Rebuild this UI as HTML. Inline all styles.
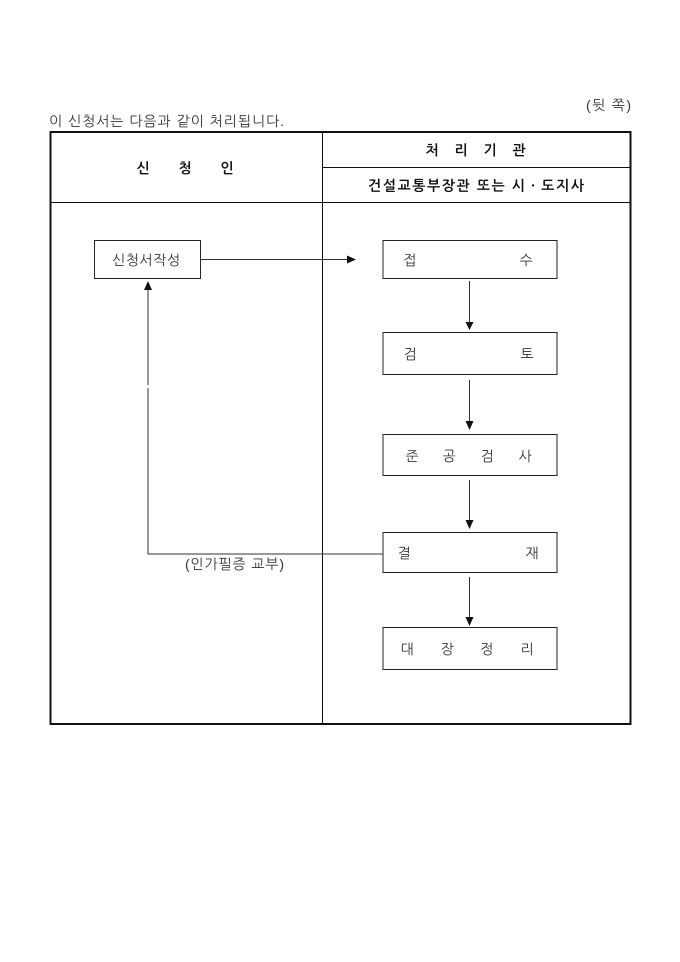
<!DOCTYPE html>
<html lang="ko">
<head>
<meta charset="utf-8">
<style>
html,body{margin:0;padding:0;background:#fff;width:680px;height:962px;overflow:hidden}
svg{display:block}
text{font-family:"Liberation Sans","NanumGothic","Noto Sans CJK KR",sans-serif;font-size:14px;fill:#333}
.b{font-weight:bold;fill:#111}
</style>
</head>
<body>
<svg width="680" height="962" viewBox="0 0 680 962" xmlns="http://www.w3.org/2000/svg">
<rect width="680" height="962" fill="#fff"/>

<text x="586" y="110" xml:space="preserve" textLength="45" lengthAdjust="spacing">(뒷 쪽)</text>
<text x="49" y="126" textLength="235" lengthAdjust="spacing">이 신청서는 다음과 같이 처리됩니다.</text>

<!-- table -->
<g fill="none" stroke="#111">
<rect x="50.5" y="132" width="580" height="592" stroke-width="2"/>
<path d="M322.5 132V724M50 202.5H630M322 167.5H630" stroke-width="1"/>
</g>

<text class="b" x="136.5" y="173">신</text>
<text class="b" x="178.5" y="173">청</text>
<text class="b" x="220.5" y="173">인</text>
<text class="b" x="425.5" y="155">처</text>
<text class="b" x="454.5" y="155">리</text>
<text class="b" x="483.5" y="155">기</text>
<text class="b" x="512.5" y="155">관</text>
<text class="b" x="368" y="190.5" textLength="216" lengthAdjust="spacing">건설교통부장관 또는 시ㆍ도지사</text>

<!-- boxes -->
<g fill="#fff" stroke="#222" stroke-width="1">
<rect x="94.5" y="240.5" width="106" height="38"/>
<rect x="383" y="240.5" width="174" height="38"/>
<rect x="383" y="332.5" width="174" height="42"/>
<rect x="383" y="434.5" width="174" height="41"/>
<rect x="383" y="532.5" width="174" height="40"/>
<rect x="383" y="627.5" width="174" height="42"/>
</g>

<!-- connectors -->
<g fill="none" stroke="#333" stroke-width="1">
<path d="M201 259.5H348"/>
<path d="M469.5 281V323M469.5 380V422M469.5 480V521M469.5 577V618"/>
<path d="M383 554H148V289"/>
</g>
<path d="M148 385V388" stroke="#fff" stroke-width="2"/>
<g fill="#111">
<path d="M347 255.5L356 259.5L347 263.5Z"/>
<path d="M465.5 322H473.5L469.5 330Z"/>
<path d="M465.5 421H473.5L469.5 430Z"/>
<path d="M465.5 520H473.5L469.5 529Z"/>
<path d="M465.5 617H473.5L469.5 626Z"/>
<path d="M144 290H152L148 281Z"/>
</g>

<!-- labels -->
<text x="112" y="265" textLength="68" lengthAdjust="spacing">신청서작성</text>
<text x="403.5" y="265">접</text>
<text x="519.5" y="265">수</text>
<text x="403.5" y="359">검</text>
<text x="520.5" y="359">토</text>
<text x="405.5" y="461">준</text>
<text x="442.5" y="461">공</text>
<text x="480.5" y="461">검</text>
<text x="518.5" y="461">사</text>
<text x="397.5" y="558">결</text>
<text x="525.5" y="558">재</text>
<text x="400.5" y="654">대</text>
<text x="440.5" y="654">장</text>
<text x="480.5" y="654">정</text>
<text x="520.5" y="654">리</text>
<text x="185" y="569" textLength="99" lengthAdjust="spacing">(인가필증 교부)</text>
</svg>
</body>
</html>
